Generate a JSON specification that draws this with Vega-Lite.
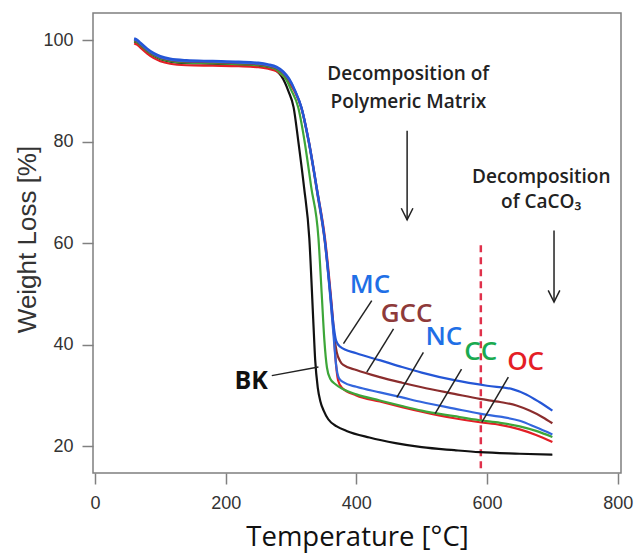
{
  "$schema": "https://vega.github.io/schema/vega-lite/v6.json",
  "width": 528,
  "height": 460,
  "autosize": "none",
  "padding": {"left": 93, "top": 13, "right": 16, "bottom": 81},
  "background": "white",
  "config": {
    "view": {"stroke": "#7f7f7f", "strokeWidth": 1.5},
    "axis": {
      "grid": false,
      "domain": false,
      "tickColor": "#808080",
      "tickWidth": 1.5,
      "tickSize": 11,
      "labelFont": "Liberation Sans",
      "labelFontSize": 18,
      "labelColor": "#333333"
    }
  },
  "datasets": {
    "curves": [
      {"s":"BK","T":60,"W":99.8},{"s":"BK","T":65,"W":99.5},{"s":"BK","T":70,"W":98.9},{"s":"BK","T":80,"W":97.8},{"s":"BK","T":90,"W":96.9},{"s":"BK","T":100,"W":96.3},{"s":"BK","T":115,"W":95.8},{"s":"BK","T":140,"W":95.5},{"s":"BK","T":180,"W":95.4},{"s":"BK","T":220,"W":95.2},{"s":"BK","T":250,"W":95.0},{"s":"BK","T":265,"W":94.7},{"s":"BK","T":278,"W":94.0},{"s":"BK","T":285,"W":93.0},{"s":"BK","T":291,"W":91.6},{"s":"BK","T":296,"W":90.0},{"s":"BK","T":304,"W":86.8},{"s":"BK","T":311,"W":80.3},{"s":"BK","T":320,"W":71},{"s":"BK","T":328,"W":61},{"s":"BK","T":334,"W":45},{"s":"BK","T":337,"W":37},{"s":"BK","T":341,"W":31.5},{"s":"BK","T":345,"W":28.8},{"s":"BK","T":350,"W":27},{"s":"BK","T":357,"W":25.3},{"s":"BK","T":370,"W":23.9},{"s":"BK","T":385,"W":23.0},{"s":"BK","T":420,"W":21.7},{"s":"BK","T":460,"W":20.6},{"s":"BK","T":500,"W":19.8},{"s":"BK","T":550,"W":19.2},{"s":"BK","T":589,"W":18.8},{"s":"BK","T":650,"W":18.5},{"s":"BK","T":700,"W":18.3},
      {"s":"OC","T":60,"W":99.4},{"s":"OC","T":65,"W":99.1},{"s":"OC","T":70,"W":98.5},{"s":"OC","T":80,"W":97.4},{"s":"OC","T":90,"W":96.5},{"s":"OC","T":100,"W":95.9},{"s":"OC","T":115,"W":95.4},{"s":"OC","T":140,"W":95.1},{"s":"OC","T":180,"W":95.0},{"s":"OC","T":220,"W":94.9},{"s":"OC","T":250,"W":94.7},{"s":"OC","T":265,"W":94.4},{"s":"OC","T":278,"W":93.9},{"s":"OC","T":288,"W":93.0},{"s":"OC","T":297,"W":91.7},{"s":"OC","T":306,"W":89.8},{"s":"OC","T":316,"W":86.7},{"s":"OC","T":327,"W":80.3},{"s":"OC","T":340,"W":70.5},{"s":"OC","T":352,"W":61},{"s":"OC","T":360,"W":51},{"s":"OC","T":365,"W":43.5},{"s":"OC","T":368,"W":37.5},{"s":"OC","T":372,"W":33},{"s":"OC","T":378,"W":31.5},{"s":"OC","T":400,"W":30.0},{"s":"OC","T":436,"W":28.8},{"s":"OC","T":470,"W":27.7},{"s":"OC","T":500,"W":26.8},{"s":"OC","T":550,"W":25.5},{"s":"OC","T":589,"W":24.7},{"s":"OC","T":620,"W":24.2},{"s":"OC","T":650,"W":23.3},{"s":"OC","T":675,"W":22.2},{"s":"OC","T":700,"W":20.8},
      {"s":"CC","T":60,"W":99.9},{"s":"CC","T":65,"W":99.6},{"s":"CC","T":70,"W":99.0},{"s":"CC","T":80,"W":97.9},{"s":"CC","T":90,"W":97.0},{"s":"CC","T":100,"W":96.4},{"s":"CC","T":115,"W":95.9},{"s":"CC","T":140,"W":95.6},{"s":"CC","T":180,"W":95.5},{"s":"CC","T":220,"W":95.3},{"s":"CC","T":250,"W":95.1},{"s":"CC","T":265,"W":94.8},{"s":"CC","T":278,"W":94.2},{"s":"CC","T":285,"W":93.4},{"s":"CC","T":292,"W":92.4},{"s":"CC","T":300,"W":90.3},{"s":"CC","T":311,"W":86.8},{"s":"CC","T":320.5,"W":80.3},{"s":"CC","T":331,"W":71},{"s":"CC","T":342,"W":61},{"s":"CC","T":347,"W":50},{"s":"CC","T":351,"W":41},{"s":"CC","T":355,"W":35.5},{"s":"CC","T":360,"W":33.3},{"s":"CC","T":368,"W":32.2},{"s":"CC","T":380,"W":31.2},{"s":"CC","T":400,"W":30.2},{"s":"CC","T":436,"W":29.0},{"s":"CC","T":470,"W":27.9},{"s":"CC","T":500,"W":27.0},{"s":"CC","T":550,"W":25.9},{"s":"CC","T":589,"W":25.1},{"s":"CC","T":620,"W":24.6},{"s":"CC","T":650,"W":23.9},{"s":"CC","T":675,"W":23.0},{"s":"CC","T":700,"W":21.8},
      {"s":"GCC","T":60,"W":100.1},{"s":"GCC","T":65,"W":99.8},{"s":"GCC","T":70,"W":99.2},{"s":"GCC","T":80,"W":98.1},{"s":"GCC","T":90,"W":97.2},{"s":"GCC","T":100,"W":96.6},{"s":"GCC","T":115,"W":96.1},{"s":"GCC","T":140,"W":95.8},{"s":"GCC","T":180,"W":95.7},{"s":"GCC","T":220,"W":95.5},{"s":"GCC","T":250,"W":95.3},{"s":"GCC","T":265,"W":95.0},{"s":"GCC","T":278,"W":94.5},{"s":"GCC","T":288,"W":93.6},{"s":"GCC","T":297,"W":92.2},{"s":"GCC","T":306,"W":90.0},{"s":"GCC","T":316,"W":86.6},{"s":"GCC","T":327,"W":80.0},{"s":"GCC","T":340,"W":70.0},{"s":"GCC","T":352,"W":60.0},{"s":"GCC","T":360,"W":50},{"s":"GCC","T":365,"W":43},{"s":"GCC","T":370,"W":38.5},{"s":"GCC","T":375,"W":36.8},{"s":"GCC","T":380,"W":36.0},{"s":"GCC","T":400,"W":35.0},{"s":"GCC","T":436,"W":33.6},{"s":"GCC","T":470,"W":32.5},{"s":"GCC","T":500,"W":31.6},{"s":"GCC","T":550,"W":30.3},{"s":"GCC","T":589,"W":29.3},{"s":"GCC","T":620,"W":28.7},{"s":"GCC","T":645,"W":28.0},{"s":"GCC","T":665,"W":27.0},{"s":"GCC","T":685,"W":25.7},{"s":"GCC","T":700,"W":24.5},
      {"s":"NC","T":60,"W":100.2},{"s":"NC","T":65,"W":99.9},{"s":"NC","T":70,"W":99.3},{"s":"NC","T":80,"W":98.2},{"s":"NC","T":90,"W":97.3},{"s":"NC","T":100,"W":96.7},{"s":"NC","T":115,"W":96.2},{"s":"NC","T":140,"W":95.9},{"s":"NC","T":180,"W":95.8},{"s":"NC","T":220,"W":95.6},{"s":"NC","T":250,"W":95.4},{"s":"NC","T":265,"W":95.1},{"s":"NC","T":278,"W":94.6},{"s":"NC","T":288,"W":93.7},{"s":"NC","T":297,"W":92.3},{"s":"NC","T":306,"W":90.1},{"s":"NC","T":316,"W":86.7},{"s":"NC","T":327,"W":80.1},{"s":"NC","T":340,"W":70.2},{"s":"NC","T":352,"W":60.2},{"s":"NC","T":360,"W":49.5},{"s":"NC","T":365,"W":42},{"s":"NC","T":369,"W":36},{"s":"NC","T":373,"W":33.5},{"s":"NC","T":380,"W":32.6},{"s":"NC","T":400,"W":31.7},{"s":"NC","T":436,"W":30.6},{"s":"NC","T":470,"W":29.6},{"s":"NC","T":500,"W":28.7},{"s":"NC","T":550,"W":27.4},{"s":"NC","T":589,"W":26.4},{"s":"NC","T":620,"W":25.8},{"s":"NC","T":650,"W":25.0},{"s":"NC","T":675,"W":23.7},{"s":"NC","T":700,"W":22.3},
      {"s":"MC","T":60,"W":100.4},{"s":"MC","T":65,"W":100.1},{"s":"MC","T":70,"W":99.5},{"s":"MC","T":80,"W":98.4},{"s":"MC","T":90,"W":97.5},{"s":"MC","T":100,"W":96.9},{"s":"MC","T":115,"W":96.4},{"s":"MC","T":140,"W":96.1},{"s":"MC","T":180,"W":95.95},{"s":"MC","T":220,"W":95.8},{"s":"MC","T":250,"W":95.6},{"s":"MC","T":265,"W":95.3},{"s":"MC","T":278,"W":94.8},{"s":"MC","T":288,"W":93.9},{"s":"MC","T":297,"W":92.5},{"s":"MC","T":306,"W":90.2},{"s":"MC","T":316,"W":86.8},{"s":"MC","T":327,"W":80.3},{"s":"MC","T":340,"W":70.5},{"s":"MC","T":352,"W":60.5},{"s":"MC","T":360,"W":50.5},{"s":"MC","T":365,"W":44},{"s":"MC","T":369,"W":40.8},{"s":"MC","T":375,"W":39.6},{"s":"MC","T":400,"W":38.3},{"s":"MC","T":437,"W":36.9},{"s":"MC","T":470,"W":35.6},{"s":"MC","T":500,"W":34.5},{"s":"MC","T":550,"W":33.0},{"s":"MC","T":600,"W":31.9},{"s":"MC","T":640,"W":31.2},{"s":"MC","T":660,"W":30.2},{"s":"MC","T":680,"W":28.7},{"s":"MC","T":700,"W":27.0}
    ],
    "leaders": [
      {"id":"MC","T":423.6,"W":48.7},{"id":"MC","T":380.3,"W":40.2},
      {"id":"GCC","T":456.9,"W":43.1},{"id":"GCC","T":416,"W":34.6},
      {"id":"NC","T":502.6,"W":38.5},{"id":"NC","T":462,"W":29.6},
      {"id":"CC","T":561,"W":35.2},{"id":"CC","T":520.5,"W":26.4},
      {"id":"OC","T":632.6,"W":33.6},{"id":"OC","T":592,"W":24.7},
      {"id":"BK","T":270.6,"W":33.9},{"id":"BK","T":342,"W":35.6}
    ],
    "labels": [
      {"s":"MC","T":421,"W":51.7},
      {"s":"GCC","T":477,"W":46.1},
      {"s":"NC","T":534,"W":41.5},
      {"s":"CC","T":590.3,"W":38.5},
      {"s":"OC","T":659,"W":36.6}
    ],
    "bk": [{"s":"BK","T":239,"W":32.9}],
    "notes": [
      {"txt":"Decomposition of","T":479.5,"W":92.1},
      {"txt":"Polymeric Matrix","T":479.5,"W":86.6},
      {"txt":"Decomposition","T":683,"W":71.9},
      {"txt":"of CaCO₃","T":683,"W":67.0}
    ],
    "shafts": [
      {"T":477.7,"W":82.2,"W2":64.6},
      {"T":702.5,"W":62.5,"W2":48.4}
    ],
    "heads": [
      {"id":"a1","T":468.8,"W":66.9},{"id":"a1","T":477.7,"W":64.6},{"id":"a1","T":486.6,"W":66.9},
      {"id":"a2","T":693.6,"W":50.7},{"id":"a2","T":702.5,"W":48.4},{"id":"a2","T":711.4,"W":50.7}
    ],
    "dash": [{"T":590.5,"W":59.6,"W2":14.7}]
  },
  "encoding": {
    "x": {
      "field": "T", "type": "quantitative",
      "scale": {"domain": [-3, 805], "nice": false, "zero": false},
      "axis": {
        "values": [0, 200, 400, 600, 800],
        "labelPadding": 10,
        "title": "Temperature [°C]",
        "titleFont": "Open Sans",
        "titleFontSize": 27.5,
        "titleFontWeight": "normal",
        "titleColor": "#111111",
        "titleBaseline": "alphabetic",
        "titleAlign": "center",
        "titleX": 264,
        "titleY": 72
      }
    },
    "y": {
      "field": "W", "type": "quantitative",
      "scale": {"domain": [14.7, 105.4], "nice": false, "zero": false},
      "axis": {
        "values": [20, 40, 60, 80, 100],
        "labelPadding": 9,
        "title": "Weight Loss [%]",
        "titleFont": "Liberation Sans",
        "titleFontSize": 26,
        "titleFontWeight": "normal",
        "titleColor": "#333333",
        "titleAngle": -90,
        "titleBaseline": "alphabetic",
        "titleAlign": "center",
        "titleX": -58,
        "titleY": 226
      }
    }
  },
  "layer": [
    {
      "data": {"name": "dash"},
      "mark": {"type": "rule", "color": "#e0314b", "strokeWidth": 2.5, "strokeDash": [7, 5]},
      "encoding": {"y2": {"field": "W2"}}
    },
    {
      "data": {"name": "curves"},
      "mark": {"type": "line", "strokeWidth": 2.2, "interpolate": "monotone"},
      "encoding": {
        "color": {
          "field": "s", "type": "nominal", "legend": null,
          "sort": ["BK","OC","CC","GCC","NC","MC"],
          "scale": {"domain": ["BK","OC","CC","GCC","NC","MC"], "range": ["#111111","#e21f26","#3da639","#8b2d2d","#3366dd","#2456d6"]}
        }
      }
    },
    {
      "data": {"name": "leaders"},
      "mark": {"type": "line", "color": "#222222", "strokeWidth": 1.5},
      "encoding": {"detail": {"field": "id", "type": "nominal"}}
    },
    {
      "data": {"name": "labels"},
      "mark": {"type": "text", "font": "Open Sans", "fontSize": 26, "fontWeight": 600, "align": "center", "baseline": "middle"},
      "encoding": {
        "text": {"field": "s"},
        "color": {
          "field": "s", "type": "nominal", "legend": null,
          "scale": {"domain": ["MC","GCC","NC","CC","OC"], "range": ["#1f6fe6","#8e3a3a","#1f6fe6","#1aaa50","#e41e26"]}
        }
      }
    },
    {
      "data": {"name": "bk"},
      "mark": {"type": "text", "font": "Open Sans", "fontSize": 25, "fontWeight": "bold", "align": "center", "baseline": "middle", "color": "#111111"},
      "encoding": {"text": {"field": "s"}}
    },
    {
      "data": {"name": "notes"},
      "mark": {"type": "text", "font": "Open Sans", "fontSize": 19, "fontWeight": 600, "align": "center", "baseline": "alphabetic", "color": "#222222"},
      "encoding": {"text": {"field": "txt"}}
    },
    {
      "data": {"name": "shafts"},
      "mark": {"type": "rule", "color": "#222222", "strokeWidth": 1.5},
      "encoding": {"y2": {"field": "W2"}}
    },
    {
      "data": {"name": "heads"},
      "mark": {"type": "line", "color": "#222222", "strokeWidth": 1.5},
      "encoding": {"detail": {"field": "id", "type": "nominal"}}
    }
  ],
  "resolve": {"scale": {"color": "independent"}}
}
